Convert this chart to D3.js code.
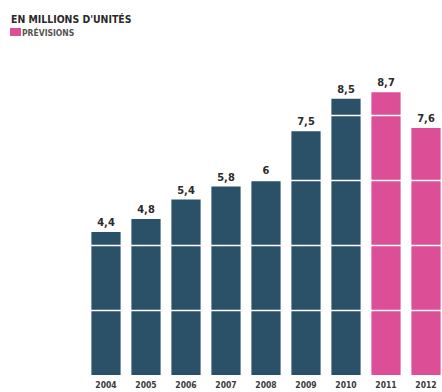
<!DOCTYPE html>
<html>
<head>
<meta charset="utf-8">
<script src="https://cdn.jsdelivr.net/npm/d3@7"></script>
<style>
  html, body { margin: 0; padding: 0; background: #ffffff; }
  svg { display: block; }
  text { font-family: "DejaVu Sans Condensed", "DejaVu Sans", sans-serif; }
</style>
</head>
<body>
<svg id="chart" width="442" height="392"></svg>
<script>
// Ventes annuelles, en millions d'unités
const years = ["2004", "2005", "2006", "2007", "2008", "2009", "2010", "2011", "2012"];
const values = [4.4, 4.8, 5.4, 5.8, 6, 7.5, 8.5, 8.7, 7.6];
const forecastYears = ["2011", "2012"];
const gridValues = [2, 4, 6, 8];

const svg = d3.select("#chart");
const W = 442, H = 392;
const baseY = 375;

const x = d3.scaleBand()
  .domain(years)
  .range([86, 446])
  .paddingInner(0.27)
  .paddingOuter(0.135);

const y = d3.scaleLinear()
  .domain([0, 4])
  .range([baseY, 245]);

const navy = "#2b5169";
const pink = "#dc4f96";

// Barres
svg.append("g")
  .selectAll("rect")
  .data(years)
  .join("rect")
  .attr("x", d => x(d))
  .attr("y", (d, i) => y(values[i]))
  .attr("width", x.bandwidth())
  .attr("height", (d, i) => baseY - y(values[i]))
  .attr("fill", d => forecastYears.includes(d) ? pink : navy);

// Lignes de repère blanches à travers les barres
svg.append("g")
  .selectAll("line")
  .data(gridValues)
  .join("line")
  .attr("x1", 80)
  .attr("x2", W)
  .attr("y1", d => Math.round(y(d)) + 0.5)
  .attr("y2", d => Math.round(y(d)) + 0.5)
  .attr("stroke", "#ffffff")
  .attr("stroke-width", 1.6);

// Valeurs au-dessus des barres
const fmt = v => String(v).replace(".", ",");
svg.append("g")
  .selectAll("text")
  .data(years)
  .join("text")
  .attr("x", d => x(d) + x.bandwidth() / 2)
  .attr("y", (d, i) => y(values[i]) - 6)
  .attr("text-anchor", "middle")
  .attr("font-size", 11)
  .attr("font-weight", "bold")
  .attr("fill", "#2a2a2a")
  .text((d, i) => fmt(values[i]));

// Axe des années
const xAxis = d3.axisBottom(x).tickSize(0).tickPadding(7);
const gx = svg.append("g")
  .attr("transform", `translate(0,${baseY})`)
  .call(xAxis);
gx.select(".domain").remove();
gx.selectAll("text")
  .attr("font-family", "'DejaVu Sans Condensed', 'DejaVu Sans', sans-serif")
  .attr("font-size", 8.5)
  .attr("font-weight", "bold")
  .attr("fill", "#3a3a3a");

// Titre et légende
svg.append("text")
  .attr("x", 11)
  .attr("y", 22.5)
  .attr("font-family", "'DejaVu Sans', sans-serif")
  .attr("font-size", 10.4)
  .attr("font-weight", "bold")
  .attr("fill", "#2a2a2a")
  .text("EN MILLIONS D'UNITÉS");

svg.append("rect")
  .attr("x", 10)
  .attr("y", 28)
  .attr("width", 11)
  .attr("height", 8)
  .attr("fill", pink);

svg.append("text")
  .attr("x", 22)
  .attr("y", 36)
  .attr("font-family", "'DejaVu Sans', sans-serif")
  .attr("font-size", 8.5)
  .attr("font-weight", "bold")
  .attr("fill", "#555555")
  .text("PRÉVISIONS");
</script>
</body>
</html>
